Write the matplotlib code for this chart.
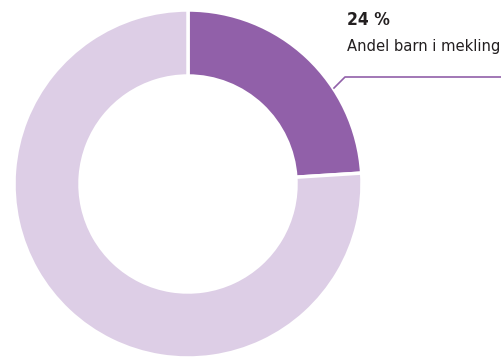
import matplotlib
matplotlib.use("Agg")
import matplotlib.pyplot as plt

labels = ["Andel barn i mekling", "Øvrige"]
values = [24, 76]
colors = ["#9160A9", "#DDCEE6"]
pct_label = "24 %"

fig = plt.figure(figsize=(5.01, 3.58), dpi=100)
ax = fig.add_axes([0, 0, 1, 1])

ax.pie(values, colors=colors, startangle=90, counterclock=False,
       center=(188, 174), radius=174, frame=True,
       wedgeprops=dict(width=66, edgecolor="white", linewidth=2.5))
ax.set_xlim(0, 501)
ax.set_ylim(0, 358)
ax.set_aspect("equal")
ax.axis("off")

ax.plot([334, 345, 501], [270, 281, 281], color="#9160A9", lw=1.2)

fam = ["DejaVu Sans"]
ax.text(347, 347, pct_label, fontsize=12.5, fontweight="bold", family=fam,
        fontstretch="condensed", color="#231F20", va="top", ha="left")
ax.text(347, 319, labels[0], fontsize=11.8, family=fam,
        fontstretch="condensed", color="#231F20", va="top", ha="left")

fig.savefig("out.png", dpi=100)
